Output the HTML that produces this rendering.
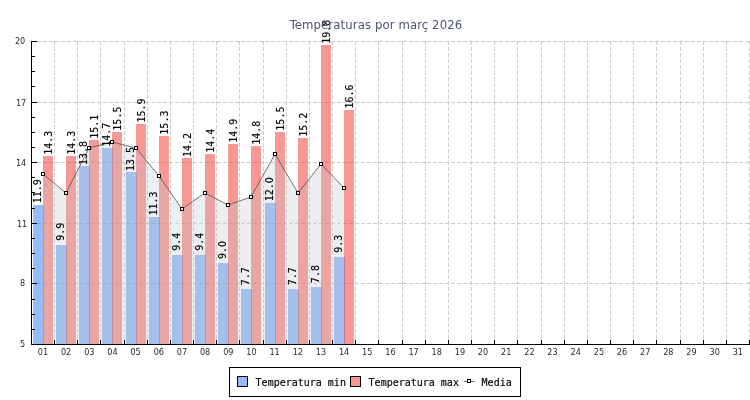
<!DOCTYPE html>
<html><head><meta charset="utf-8"><title>Temperaturas por març 2026</title>
<style>
html,body{margin:0;padding:0;background:#fff;}
svg{display:block;}
.ax{font-family:"DejaVu Sans Condensed","DejaVu Sans","Liberation Sans",sans-serif;font-size:9px;fill:#2a2a2a;}
.val{font-family:"DejaVu Sans Mono","Liberation Mono",monospace;font-size:10px;fill:#000;stroke:#000;stroke-width:0.15px;}
.z{font-family:"DejaVu Sans Condensed","DejaVu Sans",sans-serif;font-size:10.5px;}
.leg{font-family:"DejaVu Sans Mono","Liberation Mono",monospace;font-size:10px;fill:#000;stroke:#000;stroke-width:0.15px;}
.title{font-family:"DejaVu Sans Condensed","DejaVu Sans","Liberation Sans",sans-serif;font-size:13px;letter-spacing:0.1px;fill:#4c5674;}
</style></head><body>
<svg width="750" height="400" viewBox="0 0 750 400">
<rect width="750" height="400" fill="#fff"/>
<defs><clipPath id="ac"><path d="M43,344 L43.0,174.0 L66.0,193.0 L89.0,148.0 L112.0,142.0 L136.0,148.0 L159.0,176.0 L182.0,209.0 L205.0,193.0 L228.0,205.0 L251.0,197.0 L275.0,154.0 L298.0,193.0 L321.0,164.0 L344.0,188.0 L344,344 Z"/></clipPath>
<clipPath id="oc"><path clip-rule="evenodd" d="M0,0H750V400H0Z M43,344 L43.0,174.0 L66.0,193.0 L89.0,148.0 L112.0,142.0 L136.0,148.0 L159.0,176.0 L182.0,209.0 L205.0,193.0 L228.0,205.0 L251.0,197.0 L275.0,154.0 L298.0,193.0 L321.0,164.0 L344.0,188.0 L344,344 Z"/></clipPath></defs>
<path d="M43,344 L43.0,174.0 L66.0,193.0 L89.0,148.0 L112.0,142.0 L136.0,148.0 L159.0,176.0 L182.0,209.0 L205.0,193.0 L228.0,205.0 L251.0,197.0 L275.0,154.0 L298.0,193.0 L321.0,164.0 L344.0,188.0 L344,344 Z" fill="rgb(236,238,240)"/>
<g clip-path="url(#ac)" stroke="#fff" stroke-opacity="0.45" stroke-width="1" fill="none" shape-rendering="crispEdges">
<line x1="31.0" y1="41.5" x2="750" y2="41.5"/>
<line x1="31.0" y1="102.5" x2="750" y2="102.5"/>
<line x1="31.0" y1="162.5" x2="750" y2="162.5"/>
<line x1="31.0" y1="223.5" x2="750" y2="223.5"/>
<line x1="31.0" y1="283.5" x2="750" y2="283.5"/>
<line x1="54.5" y1="41.0" x2="54.5" y2="344.0"/>
<line x1="77.5" y1="41.0" x2="77.5" y2="344.0"/>
<line x1="100.5" y1="41.0" x2="100.5" y2="344.0"/>
<line x1="124.5" y1="41.0" x2="124.5" y2="344.0"/>
<line x1="147.5" y1="41.0" x2="147.5" y2="344.0"/>
<line x1="170.5" y1="41.0" x2="170.5" y2="344.0"/>
<line x1="193.5" y1="41.0" x2="193.5" y2="344.0"/>
<line x1="216.5" y1="41.0" x2="216.5" y2="344.0"/>
<line x1="239.5" y1="41.0" x2="239.5" y2="344.0"/>
<line x1="263.5" y1="41.0" x2="263.5" y2="344.0"/>
<line x1="286.5" y1="41.0" x2="286.5" y2="344.0"/>
<line x1="309.5" y1="41.0" x2="309.5" y2="344.0"/>
<line x1="332.5" y1="41.0" x2="332.5" y2="344.0"/>
<line x1="355.5" y1="41.0" x2="355.5" y2="344.0"/>
<line x1="378.5" y1="41.0" x2="378.5" y2="344.0"/>
<line x1="402.5" y1="41.0" x2="402.5" y2="344.0"/>
<line x1="425.5" y1="41.0" x2="425.5" y2="344.0"/>
<line x1="448.5" y1="41.0" x2="448.5" y2="344.0"/>
<line x1="471.5" y1="41.0" x2="471.5" y2="344.0"/>
<line x1="494.5" y1="41.0" x2="494.5" y2="344.0"/>
<line x1="517.5" y1="41.0" x2="517.5" y2="344.0"/>
<line x1="541.5" y1="41.0" x2="541.5" y2="344.0"/>
<line x1="564.5" y1="41.0" x2="564.5" y2="344.0"/>
<line x1="587.5" y1="41.0" x2="587.5" y2="344.0"/>
<line x1="610.5" y1="41.0" x2="610.5" y2="344.0"/>
<line x1="633.5" y1="41.0" x2="633.5" y2="344.0"/>
<line x1="656.5" y1="41.0" x2="656.5" y2="344.0"/>
<line x1="680.5" y1="41.0" x2="680.5" y2="344.0"/>
<line x1="703.5" y1="41.0" x2="703.5" y2="344.0"/>
<line x1="726.5" y1="41.0" x2="726.5" y2="344.0"/>
<line x1="749.5" y1="41.0" x2="749.5" y2="344.0"/>
</g>
<g stroke="#cccccc" stroke-width="1" stroke-dasharray="4,2" fill="none" shape-rendering="crispEdges">
<line x1="31.0" y1="41.5" x2="750" y2="41.5"/>
<line x1="31.0" y1="102.5" x2="750" y2="102.5"/>
<line x1="31.0" y1="162.5" x2="750" y2="162.5"/>
<line x1="31.0" y1="223.5" x2="750" y2="223.5"/>
<line x1="31.0" y1="283.5" x2="750" y2="283.5"/>
<line x1="54.5" y1="41.0" x2="54.5" y2="344.0"/>
<line x1="77.5" y1="41.0" x2="77.5" y2="344.0"/>
<line x1="100.5" y1="41.0" x2="100.5" y2="344.0"/>
<line x1="124.5" y1="41.0" x2="124.5" y2="344.0"/>
<line x1="147.5" y1="41.0" x2="147.5" y2="344.0"/>
<line x1="170.5" y1="41.0" x2="170.5" y2="344.0"/>
<line x1="193.5" y1="41.0" x2="193.5" y2="344.0"/>
<line x1="216.5" y1="41.0" x2="216.5" y2="344.0"/>
<line x1="239.5" y1="41.0" x2="239.5" y2="344.0"/>
<line x1="263.5" y1="41.0" x2="263.5" y2="344.0"/>
<line x1="286.5" y1="41.0" x2="286.5" y2="344.0"/>
<line x1="309.5" y1="41.0" x2="309.5" y2="344.0"/>
<line x1="332.5" y1="41.0" x2="332.5" y2="344.0"/>
<line x1="355.5" y1="41.0" x2="355.5" y2="344.0"/>
<line x1="378.5" y1="41.0" x2="378.5" y2="344.0"/>
<line x1="402.5" y1="41.0" x2="402.5" y2="344.0"/>
<line x1="425.5" y1="41.0" x2="425.5" y2="344.0"/>
<line x1="448.5" y1="41.0" x2="448.5" y2="344.0"/>
<line x1="471.5" y1="41.0" x2="471.5" y2="344.0"/>
<line x1="494.5" y1="41.0" x2="494.5" y2="344.0"/>
<line x1="517.5" y1="41.0" x2="517.5" y2="344.0"/>
<line x1="541.5" y1="41.0" x2="541.5" y2="344.0"/>
<line x1="564.5" y1="41.0" x2="564.5" y2="344.0"/>
<line x1="587.5" y1="41.0" x2="587.5" y2="344.0"/>
<line x1="610.5" y1="41.0" x2="610.5" y2="344.0"/>
<line x1="633.5" y1="41.0" x2="633.5" y2="344.0"/>
<line x1="656.5" y1="41.0" x2="656.5" y2="344.0"/>
<line x1="680.5" y1="41.0" x2="680.5" y2="344.0"/>
<line x1="703.5" y1="41.0" x2="703.5" y2="344.0"/>
<line x1="726.5" y1="41.0" x2="726.5" y2="344.0"/>
<line x1="749.5" y1="41.0" x2="749.5" y2="344.0"/>
</g>
<g shape-rendering="crispEdges" fill-opacity="0.50" clip-path="url(#oc)">
<rect x="33" y="205" width="11" height="139" fill="rgb(41,123,245)"/>
<rect x="43" y="156" width="10" height="188" fill="rgb(243,47,43)"/>
<rect x="56" y="245" width="11" height="99" fill="rgb(41,123,245)"/>
<rect x="66" y="156" width="10" height="188" fill="rgb(243,47,43)"/>
<rect x="79" y="166" width="11" height="178" fill="rgb(41,123,245)"/>
<rect x="89" y="140" width="10" height="204" fill="rgb(243,47,43)"/>
<rect x="102" y="148" width="11" height="196" fill="rgb(41,123,245)"/>
<rect x="112" y="132" width="10" height="212" fill="rgb(243,47,43)"/>
<rect x="126" y="172" width="11" height="172" fill="rgb(41,123,245)"/>
<rect x="136" y="124" width="10" height="220" fill="rgb(243,47,43)"/>
<rect x="149" y="217" width="11" height="127" fill="rgb(41,123,245)"/>
<rect x="159" y="136" width="10" height="208" fill="rgb(243,47,43)"/>
<rect x="172" y="255" width="11" height="89" fill="rgb(41,123,245)"/>
<rect x="182" y="158" width="10" height="186" fill="rgb(243,47,43)"/>
<rect x="195" y="255" width="11" height="89" fill="rgb(41,123,245)"/>
<rect x="205" y="154" width="10" height="190" fill="rgb(243,47,43)"/>
<rect x="218" y="263" width="11" height="81" fill="rgb(41,123,245)"/>
<rect x="228" y="144" width="10" height="200" fill="rgb(243,47,43)"/>
<rect x="241" y="289" width="11" height="55" fill="rgb(41,123,245)"/>
<rect x="251" y="146" width="10" height="198" fill="rgb(243,47,43)"/>
<rect x="265" y="203" width="11" height="141" fill="rgb(41,123,245)"/>
<rect x="275" y="132" width="10" height="212" fill="rgb(243,47,43)"/>
<rect x="288" y="289" width="11" height="55" fill="rgb(41,123,245)"/>
<rect x="298" y="138" width="10" height="206" fill="rgb(243,47,43)"/>
<rect x="311" y="287" width="11" height="57" fill="rgb(41,123,245)"/>
<rect x="321" y="45" width="10" height="299" fill="rgb(243,47,43)"/>
<rect x="334" y="257" width="11" height="87" fill="rgb(41,123,245)"/>
<rect x="344" y="110" width="10" height="234" fill="rgb(243,47,43)"/>
</g>
<g shape-rendering="crispEdges" fill-opacity="0.50" clip-path="url(#ac)">
<rect x="33" y="205" width="11" height="139" fill="rgb(88,146,228)"/>
<rect x="43" y="156" width="10" height="188" fill="rgb(228,92,86)"/>
<rect x="56" y="245" width="11" height="99" fill="rgb(88,146,228)"/>
<rect x="66" y="156" width="10" height="188" fill="rgb(228,92,86)"/>
<rect x="79" y="166" width="11" height="178" fill="rgb(88,146,228)"/>
<rect x="89" y="140" width="10" height="204" fill="rgb(228,92,86)"/>
<rect x="102" y="148" width="11" height="196" fill="rgb(88,146,228)"/>
<rect x="112" y="132" width="10" height="212" fill="rgb(228,92,86)"/>
<rect x="126" y="172" width="11" height="172" fill="rgb(88,146,228)"/>
<rect x="136" y="124" width="10" height="220" fill="rgb(228,92,86)"/>
<rect x="149" y="217" width="11" height="127" fill="rgb(88,146,228)"/>
<rect x="159" y="136" width="10" height="208" fill="rgb(228,92,86)"/>
<rect x="172" y="255" width="11" height="89" fill="rgb(88,146,228)"/>
<rect x="182" y="158" width="10" height="186" fill="rgb(228,92,86)"/>
<rect x="195" y="255" width="11" height="89" fill="rgb(88,146,228)"/>
<rect x="205" y="154" width="10" height="190" fill="rgb(228,92,86)"/>
<rect x="218" y="263" width="11" height="81" fill="rgb(88,146,228)"/>
<rect x="228" y="144" width="10" height="200" fill="rgb(228,92,86)"/>
<rect x="241" y="289" width="11" height="55" fill="rgb(88,146,228)"/>
<rect x="251" y="146" width="10" height="198" fill="rgb(228,92,86)"/>
<rect x="265" y="203" width="11" height="141" fill="rgb(88,146,228)"/>
<rect x="275" y="132" width="10" height="212" fill="rgb(228,92,86)"/>
<rect x="288" y="289" width="11" height="55" fill="rgb(88,146,228)"/>
<rect x="298" y="138" width="10" height="206" fill="rgb(228,92,86)"/>
<rect x="311" y="287" width="11" height="57" fill="rgb(88,146,228)"/>
<rect x="321" y="45" width="10" height="299" fill="rgb(228,92,86)"/>
<rect x="334" y="257" width="11" height="87" fill="rgb(88,146,228)"/>
<rect x="344" y="110" width="10" height="234" fill="rgb(228,92,86)"/>
</g>
<polyline points="43.0,174.0 66.0,193.0 89.0,148.0 112.0,142.0 136.0,148.0 159.0,176.0 182.0,209.0 205.0,193.0 228.0,205.0 251.0,197.0 275.0,154.0 298.0,193.0 321.0,164.0 344.0,188.0" fill="none" stroke="#4a4a4a" stroke-width="0.75"/>
<rect x="41.5" y="172.5" width="3" height="3" fill="#fff" stroke="#000" stroke-width="1" shape-rendering="crispEdges"/>
<rect x="64.5" y="191.5" width="3" height="3" fill="#fff" stroke="#000" stroke-width="1" shape-rendering="crispEdges"/>
<rect x="87.5" y="146.5" width="3" height="3" fill="#fff" stroke="#000" stroke-width="1" shape-rendering="crispEdges"/>
<rect x="110.5" y="140.5" width="3" height="3" fill="#fff" stroke="#000" stroke-width="1" shape-rendering="crispEdges"/>
<rect x="134.5" y="146.5" width="3" height="3" fill="#fff" stroke="#000" stroke-width="1" shape-rendering="crispEdges"/>
<rect x="157.5" y="174.5" width="3" height="3" fill="#fff" stroke="#000" stroke-width="1" shape-rendering="crispEdges"/>
<rect x="180.5" y="207.5" width="3" height="3" fill="#fff" stroke="#000" stroke-width="1" shape-rendering="crispEdges"/>
<rect x="203.5" y="191.5" width="3" height="3" fill="#fff" stroke="#000" stroke-width="1" shape-rendering="crispEdges"/>
<rect x="226.5" y="203.5" width="3" height="3" fill="#fff" stroke="#000" stroke-width="1" shape-rendering="crispEdges"/>
<rect x="249.5" y="195.5" width="3" height="3" fill="#fff" stroke="#000" stroke-width="1" shape-rendering="crispEdges"/>
<rect x="273.5" y="152.5" width="3" height="3" fill="#fff" stroke="#000" stroke-width="1" shape-rendering="crispEdges"/>
<rect x="296.5" y="191.5" width="3" height="3" fill="#fff" stroke="#000" stroke-width="1" shape-rendering="crispEdges"/>
<rect x="319.5" y="162.5" width="3" height="3" fill="#fff" stroke="#000" stroke-width="1" shape-rendering="crispEdges"/>
<rect x="342.5" y="186.5" width="3" height="3" fill="#fff" stroke="#000" stroke-width="1" shape-rendering="crispEdges"/>
<text class="val" text-anchor="middle" transform="translate(40.8,191.3) rotate(-90)">11.9</text>
<text class="val" text-anchor="middle" transform="translate(51.8,142.8) rotate(-90)">14.3</text>
<text class="val" text-anchor="middle" transform="translate(63.8,231.7) rotate(-90)">9.9</text>
<text class="val" text-anchor="middle" transform="translate(74.8,142.8) rotate(-90)">14.3</text>
<text class="val" text-anchor="middle" transform="translate(86.8,152.9) rotate(-90)">13.8</text>
<text class="val" text-anchor="middle" transform="translate(97.8,126.7) rotate(-90)">15.1</text>
<text class="val" text-anchor="middle" transform="translate(109.8,134.8) rotate(-90)">14.7</text>
<text class="val" text-anchor="middle" transform="translate(120.8,118.6) rotate(-90)">15.5</text>
<text class="val" text-anchor="middle" transform="translate(133.8,159.0) rotate(-90)">13.5</text>
<text class="val" text-anchor="middle" transform="translate(144.8,110.5) rotate(-90)">15.9</text>
<text class="val" text-anchor="middle" transform="translate(156.8,203.4) rotate(-90)">11.3</text>
<text class="val" text-anchor="middle" transform="translate(167.8,122.6) rotate(-90)">15.3</text>
<text class="val" text-anchor="middle" transform="translate(179.8,241.8) rotate(-90)">9.4</text>
<text class="val" text-anchor="middle" transform="translate(190.8,144.9) rotate(-90)">14.2</text>
<text class="val" text-anchor="middle" transform="translate(202.8,241.8) rotate(-90)">9.4</text>
<text class="val" text-anchor="middle" transform="translate(213.8,140.8) rotate(-90)">14.4</text>
<text class="val" text-anchor="middle" transform="translate(225.8,249.9) rotate(-90)">9.<tspan class="z">0</tspan></text>
<text class="val" text-anchor="middle" transform="translate(236.8,130.7) rotate(-90)">14.9</text>
<text class="val" text-anchor="middle" transform="translate(248.8,276.2) rotate(-90)">7.7</text>
<text class="val" text-anchor="middle" transform="translate(259.8,132.7) rotate(-90)">14.8</text>
<text class="val" text-anchor="middle" transform="translate(272.8,189.3) rotate(-90)">12.<tspan class="z">0</tspan></text>
<text class="val" text-anchor="middle" transform="translate(283.8,118.6) rotate(-90)">15.5</text>
<text class="val" text-anchor="middle" transform="translate(295.8,276.2) rotate(-90)">7.7</text>
<text class="val" text-anchor="middle" transform="translate(306.8,124.7) rotate(-90)">15.2</text>
<text class="val" text-anchor="middle" transform="translate(318.8,274.1) rotate(-90)">7.8</text>
<text class="val" text-anchor="middle" transform="translate(329.8,31.7) rotate(-90)">19.8</text>
<text class="val" text-anchor="middle" transform="translate(341.8,243.8) rotate(-90)">9.3</text>
<text class="val" text-anchor="middle" transform="translate(352.8,96.4) rotate(-90)">16.6</text>
<g stroke="#000" stroke-width="1" shape-rendering="crispEdges">
<line x1="31.5" y1="41.0" x2="31.5" y2="345.0"/>
<line x1="31.0" y1="344.5" x2="750" y2="344.5"/>
<line x1="54.5" y1="340.0" x2="54.5" y2="345.0"/>
<line x1="77.5" y1="340.0" x2="77.5" y2="345.0"/>
<line x1="100.5" y1="340.0" x2="100.5" y2="345.0"/>
<line x1="124.5" y1="340.0" x2="124.5" y2="345.0"/>
<line x1="147.5" y1="340.0" x2="147.5" y2="345.0"/>
<line x1="170.5" y1="340.0" x2="170.5" y2="345.0"/>
<line x1="193.5" y1="340.0" x2="193.5" y2="345.0"/>
<line x1="216.5" y1="340.0" x2="216.5" y2="345.0"/>
<line x1="239.5" y1="340.0" x2="239.5" y2="345.0"/>
<line x1="263.5" y1="340.0" x2="263.5" y2="345.0"/>
<line x1="286.5" y1="340.0" x2="286.5" y2="345.0"/>
<line x1="309.5" y1="340.0" x2="309.5" y2="345.0"/>
<line x1="332.5" y1="340.0" x2="332.5" y2="345.0"/>
<line x1="355.5" y1="340.0" x2="355.5" y2="345.0"/>
<line x1="378.5" y1="340.0" x2="378.5" y2="345.0"/>
<line x1="402.5" y1="340.0" x2="402.5" y2="345.0"/>
<line x1="425.5" y1="340.0" x2="425.5" y2="345.0"/>
<line x1="448.5" y1="340.0" x2="448.5" y2="345.0"/>
<line x1="471.5" y1="340.0" x2="471.5" y2="345.0"/>
<line x1="494.5" y1="340.0" x2="494.5" y2="345.0"/>
<line x1="517.5" y1="340.0" x2="517.5" y2="345.0"/>
<line x1="541.5" y1="340.0" x2="541.5" y2="345.0"/>
<line x1="564.5" y1="340.0" x2="564.5" y2="345.0"/>
<line x1="587.5" y1="340.0" x2="587.5" y2="345.0"/>
<line x1="610.5" y1="340.0" x2="610.5" y2="345.0"/>
<line x1="633.5" y1="340.0" x2="633.5" y2="345.0"/>
<line x1="656.5" y1="340.0" x2="656.5" y2="345.0"/>
<line x1="680.5" y1="340.0" x2="680.5" y2="345.0"/>
<line x1="703.5" y1="340.0" x2="703.5" y2="345.0"/>
<line x1="726.5" y1="340.0" x2="726.5" y2="345.0"/>
<line x1="749.5" y1="340.0" x2="749.5" y2="345.0"/>
<line x1="31.0" y1="344.5" x2="37.0" y2="344.5"/>
<line x1="31.0" y1="329.5" x2="35.0" y2="329.5"/>
<line x1="31.0" y1="314.5" x2="35.0" y2="314.5"/>
<line x1="31.0" y1="299.5" x2="35.0" y2="299.5"/>
<line x1="31.0" y1="283.5" x2="37.0" y2="283.5"/>
<line x1="31.0" y1="268.5" x2="35.0" y2="268.5"/>
<line x1="31.0" y1="253.5" x2="35.0" y2="253.5"/>
<line x1="31.0" y1="238.5" x2="35.0" y2="238.5"/>
<line x1="31.0" y1="223.5" x2="37.0" y2="223.5"/>
<line x1="31.0" y1="208.5" x2="35.0" y2="208.5"/>
<line x1="31.0" y1="192.5" x2="35.0" y2="192.5"/>
<line x1="31.0" y1="177.5" x2="35.0" y2="177.5"/>
<line x1="31.0" y1="162.5" x2="37.0" y2="162.5"/>
<line x1="31.0" y1="147.5" x2="35.0" y2="147.5"/>
<line x1="31.0" y1="132.5" x2="35.0" y2="132.5"/>
<line x1="31.0" y1="117.5" x2="35.0" y2="117.5"/>
<line x1="31.0" y1="102.5" x2="37.0" y2="102.5"/>
<line x1="31.0" y1="86.5" x2="35.0" y2="86.5"/>
<line x1="31.0" y1="71.5" x2="35.0" y2="71.5"/>
<line x1="31.0" y1="56.5" x2="35.0" y2="56.5"/>
<line x1="31.0" y1="41.5" x2="37.0" y2="41.5"/>
</g>
<text class="ax" x="43.0" y="355.0" text-anchor="middle">01</text>
<text class="ax" x="66.1" y="355.0" text-anchor="middle">02</text>
<text class="ax" x="89.3" y="355.0" text-anchor="middle">03</text>
<text class="ax" x="112.5" y="355.0" text-anchor="middle">04</text>
<text class="ax" x="135.6" y="355.0" text-anchor="middle">05</text>
<text class="ax" x="158.8" y="355.0" text-anchor="middle">06</text>
<text class="ax" x="181.9" y="355.0" text-anchor="middle">07</text>
<text class="ax" x="205.1" y="355.0" text-anchor="middle">08</text>
<text class="ax" x="228.3" y="355.0" text-anchor="middle">09</text>
<text class="ax" x="251.4" y="355.0" text-anchor="middle">10</text>
<text class="ax" x="274.6" y="355.0" text-anchor="middle">11</text>
<text class="ax" x="297.8" y="355.0" text-anchor="middle">12</text>
<text class="ax" x="320.9" y="355.0" text-anchor="middle">13</text>
<text class="ax" x="344.1" y="355.0" text-anchor="middle">14</text>
<text class="ax" x="367.2" y="355.0" text-anchor="middle">15</text>
<text class="ax" x="390.4" y="355.0" text-anchor="middle">16</text>
<text class="ax" x="413.6" y="355.0" text-anchor="middle">17</text>
<text class="ax" x="436.7" y="355.0" text-anchor="middle">18</text>
<text class="ax" x="459.9" y="355.0" text-anchor="middle">19</text>
<text class="ax" x="483.0" y="355.0" text-anchor="middle">20</text>
<text class="ax" x="506.2" y="355.0" text-anchor="middle">21</text>
<text class="ax" x="529.4" y="355.0" text-anchor="middle">22</text>
<text class="ax" x="552.5" y="355.0" text-anchor="middle">23</text>
<text class="ax" x="575.7" y="355.0" text-anchor="middle">24</text>
<text class="ax" x="598.9" y="355.0" text-anchor="middle">25</text>
<text class="ax" x="622.0" y="355.0" text-anchor="middle">26</text>
<text class="ax" x="645.2" y="355.0" text-anchor="middle">27</text>
<text class="ax" x="668.3" y="355.0" text-anchor="middle">28</text>
<text class="ax" x="691.5" y="355.0" text-anchor="middle">29</text>
<text class="ax" x="714.7" y="355.0" text-anchor="middle">30</text>
<text class="ax" x="737.8" y="355.0" text-anchor="middle">31</text>
<text class="ax" x="25.2" y="346.5" text-anchor="end">5</text>
<text class="ax" x="25.2" y="285.9" text-anchor="end">8</text>
<text class="ax" x="27.2" y="226.9" text-anchor="end">11</text>
<text class="ax" x="26.2" y="165.9" text-anchor="end">14</text>
<text class="ax" x="26.2" y="105.6" text-anchor="end">17</text>
<text class="ax" x="25.2" y="43.5" text-anchor="end">20</text>
<text class="title" x="376" y="29" text-anchor="middle">Temperaturas por març 2026</text>
<rect x="229.5" y="367.5" width="291" height="29" fill="#fff" stroke="#000" stroke-width="1" shape-rendering="crispEdges"/>
<rect x="237.5" y="376.5" width="10" height="10" fill="rgb(148,189,250)" stroke="#000" stroke-width="1" shape-rendering="crispEdges"/>
<text class="leg" x="255.6" y="386">Temperatura min</text>
<rect x="350.5" y="376.5" width="10" height="10" fill="rgb(249,151,149)" stroke="#000" stroke-width="1" shape-rendering="crispEdges"/>
<text class="leg" x="368.6" y="386">Temperatura max</text>
<line x1="464" y1="381.5" x2="475" y2="381.5" stroke="#777" stroke-width="1" shape-rendering="crispEdges"/>
<rect x="467.5" y="379.5" width="3" height="3" fill="#fff" stroke="#000" stroke-width="1" shape-rendering="crispEdges"/>
<text class="leg" x="481.6" y="386">Media</text>
</svg>
</body></html>
